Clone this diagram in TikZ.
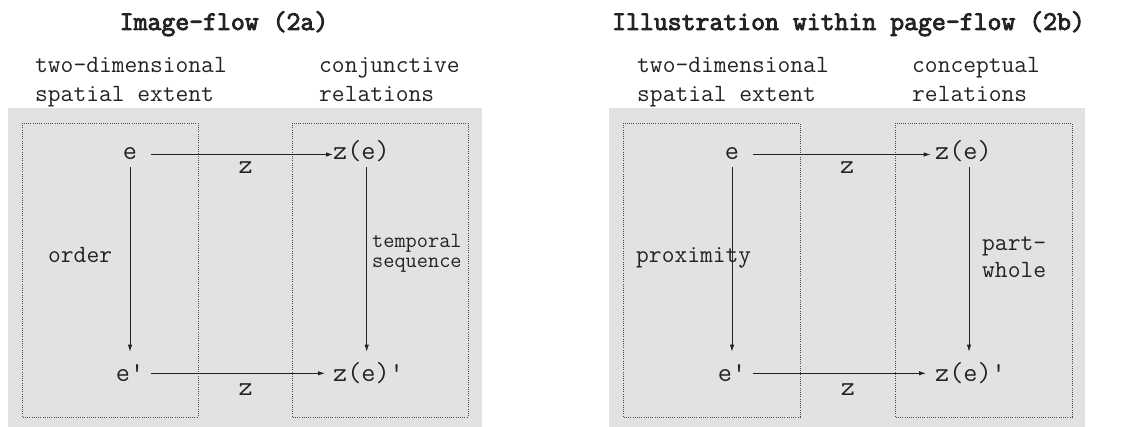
\documentclass[tikz,border=0pt]{standalone}
\usepackage{fontspec}
\newfontfamily\ttlfont{Latin Modern Mono}[FakeBold=3.2]
\usetikzlibrary{arrows.meta}
\definecolor{panelgray}{RGB}{225,226,228}
\definecolor{ink}{RGB}{35,35,35}
\begin{document}
\begin{tikzpicture}[x=1pt,y=-1pt,
  lab/.style={font=\fontsize{24.8}{27}\selectfont\ttfamily, inner sep=0, anchor=base west, text=ink},
  ttl/.style={font=\fontsize{27}{30}\selectfont\ttlfont, inner sep=0, anchor=base, text=ink},
  elem/.style={font=\fontsize{27.4}{30}\selectfont\ttfamily, inner sep=0, anchor=base, text=ink},
  smalllab/.style={font=\fontsize{21.7}{24}\selectfont\ttfamily, inner sep=0, anchor=base west, text=ink},
  arr/.style={draw=ink, line width=0.9pt, -{Latex[length=7pt,width=4.5pt]}},
  zone/.style={draw=black!70, line width=0.8pt, dash pattern=on 1pt off 1.2pt},
  panel/.style={fill=panelgray, draw=none}]
\useasboundingbox (0,0) rectangle (1139,427);
\fill[white] (0,0) rectangle (1139,427);
% ---------- left panel ----------
\fill[panel] (8,108) rectangle (482,427);
\draw[zone] (22,123) rectangle (198,417);
\draw[zone] (292,123) rectangle (468,417);
\node[ttl] (t1) at (224,30) {Image-flow (2a)};
\node[lab] (l1a) at (35,73) {two-dimensional};
\node[lab] (l1b) at (35,102) {spatial extent};
\node[lab] (r1a) at (319,73) {conjunctive};
\node[lab] (r1b) at (319,102) {relations};
\node[elem] (e1) at (130,160) {e};
\node[elem,anchor=base west] (ze1) at (333,160) {z(e)};
\node[elem] (ep1) at (130,381) {e\textquotesingle};
\node[elem,anchor=base west] (zep1) at (333,381) {z(e)\textquotesingle};
\node[lab] (o1) at (48,263) {order};
\node[smalllab] (ts1) at (372,248) {temporal};
\node[smalllab] (ts2) at (372,268) {sequence};
\draw[arr] ([xshift=14pt,yshift=5.5pt]e1.base east) -- node[elem,pos=0.52,yshift=-19pt] (z1a) {z} ([yshift=5.5pt]ze1.base west);
\draw[arr] ([xshift=6.3pt,yshift=7.7pt]ep1.base east) -- node[elem,pos=0.545,yshift=-22.5pt] (z1b) {z} ([xshift=-8pt,yshift=7.7pt]zep1.base west);
\draw[arr] ([yshift=-7.3pt]e1.base) -- ([yshift=29.3pt]ep1.base);
\draw[arr] ([xshift=33.7pt,yshift=-7.3pt]ze1.base west) -- ([xshift=33.7pt,yshift=29.3pt]zep1.base west);
% ---------- right panel ----------
\fill[panel] (609,108) rectangle (1085,427);
\draw[zone] (623,123) rectangle (800,417);
\draw[zone] (895,123) rectangle (1072,417);
\node[ttl] (t2) at (848.5,30) {Illustration within page-flow (2b)};
\node[lab] (l2a) at (637,73) {two-dimensional};
\node[lab] (l2b) at (637,102) {spatial extent};
\node[lab] (r2a) at (912,73) {conceptual};
\node[lab] (r2b) at (912,102) {relations};
\node[elem] (e2) at (732,160) {e};
\node[elem,anchor=base west] (ze2) at (935,160) {z(e)};
\node[elem] (ep2) at (732,381) {e\textquotesingle};
\node[elem,anchor=base west] (zep2) at (935,381) {z(e)\textquotesingle};
\draw[arr] ([xshift=13.5pt,yshift=5.5pt]e2.base east) -- node[elem,pos=0.53,yshift=-19pt] (z2a) {z} ([xshift=-4.3pt,yshift=5.5pt]ze2.base west);
\draw[arr] ([xshift=6.3pt,yshift=7.7pt]ep2.base east) -- node[elem,pos=0.55,yshift=-22.5pt] (z2b) {z} ([xshift=-9pt,yshift=7.7pt]zep2.base west);
\draw[arr] ([yshift=-7.3pt]e2.base) -- ([yshift=29.3pt]ep2.base);
\draw[arr] ([xshift=34pt,yshift=-7.3pt]ze2.base west) -- ([xshift=34pt,yshift=29.3pt]zep2.base west);
\node[lab] (p2) at (636,263) {proximity};
\node[lab] (pw1) at (982,251) {part-};
\node[lab] (pw2) at (982,278) {whole};
\end{tikzpicture}
\end{document}
